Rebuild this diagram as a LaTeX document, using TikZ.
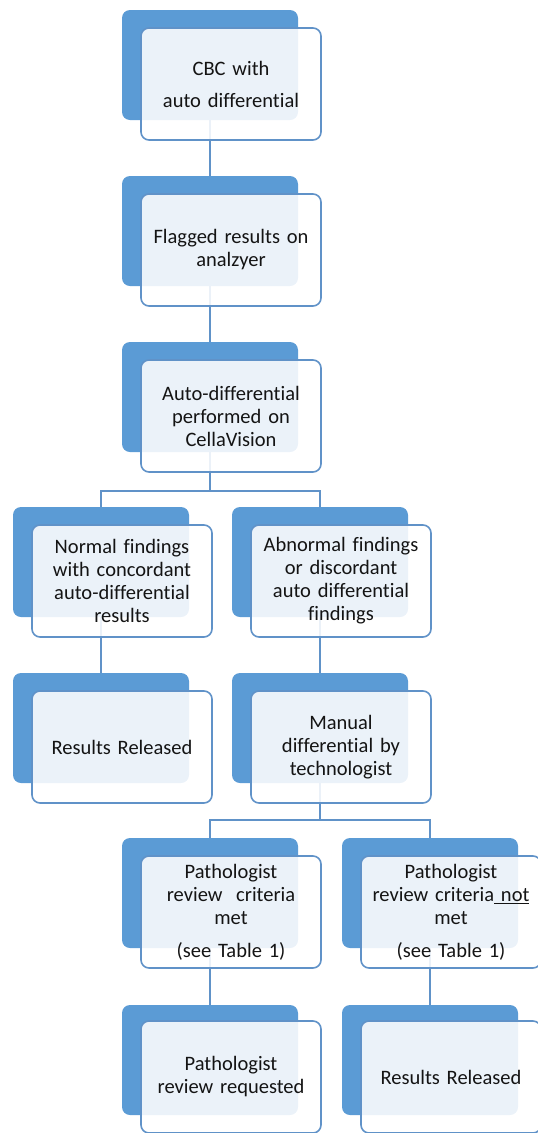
\documentclass[tikz,border=0pt]{standalone}
\usepackage{fontspec}
\setmainfont{Carlito}[Ligatures=NoCommon, WordSpace=0.85]
\usetikzlibrary{calc}
\definecolor{backblue}{RGB}{91,155,213}
\definecolor{lineblue}{RGB}{96,146,200}
\definecolor{textgray}{RGB}{20,20,20}

\begin{document}
\begin{tikzpicture}[
  x=1pt,
  y=-1pt,
  font=\fontsize{20.5}{23}\selectfont,
  backbox/.style={
    fill=backblue,
    rounded corners=8pt,
    minimum width=176pt,
    minimum height=110pt,
    inner sep=0pt
  },
  stepbox/.style={
    draw=lineblue,
    line width=1.6pt,
    fill=white,
    fill opacity=0.88,
    text opacity=1,
    text=textgray,
    rounded corners=8pt,
    minimum width=180pt,
    minimum height=112pt,
    text width=178pt,
    align=center,
    inner sep=0pt
  },
  link/.style={
    draw=lineblue,
    line width=1.8pt
  }
  ]
  \useasboundingbox (0,0) rectangle (538,1133);

  \node [backbox] (CBCBack) at (210, 65) {};
  \node [backbox] (FlaggedBack) at (210, 231) {};
  \node [backbox] (AutoDiffBack) at (210, 397) {};
  \node [backbox] (NormalBack) at (101, 562) {};
  \node [backbox] (AbnormalBack) at (320, 562) {};
  \node [backbox] (ReleasedBack) at (101, 728) {};
  \node [backbox] (ManualBack) at (320, 728) {};
  \node [backbox] (MetBack) at (210, 893) {};
  \node [backbox] (NotMetBack) at (430, 893) {};
  \node [backbox] (ReviewBack) at (210, 1060) {};
  \node [backbox] (FinalBack) at (430, 1060) {};

  \draw [link] (CBCBack.south) -- (FlaggedBack.north);
  \draw [link] (FlaggedBack.south) -- (AutoDiffBack.north);
  \draw [link] (AutoDiffBack.south) -- (AutoDiffBack.south |- 0,491) coordinate (SplitA);
  \draw [link] (NormalBack.north) |- (SplitA) -| (AbnormalBack.north);
  \draw [link] (NormalBack.south) -- (ReleasedBack.north);
  \draw [link] (AbnormalBack.south) -- (ManualBack.north);
  \draw [link] (ManualBack.south) -- (ManualBack.south |- 0,820) coordinate (SplitB);
  \draw [link] (MetBack.north) |- (SplitB) -| (NotMetBack.north);
  \draw [link] (MetBack.south) -- (ReviewBack.north);
  \draw [link] (NotMetBack.south) -- (FinalBack.north);

  \node [stepbox] (CBC) at ([shift={(21,19)}]CBCBack) {CBC with\\[9pt]auto differential};
  \node [stepbox] (Flagged) at ([shift={(21,19)}]FlaggedBack) {Flagged results on\\analzyer};
  \node [stepbox] (AutoDiff) at ([shift={(21,19)}]AutoDiffBack) {Auto-differential\\performed on\\CellaVision};
  \node [stepbox] (Normal) at ([shift={(21,19)}]NormalBack) {Normal findings\\with concordant\\auto-differential\\results};
  \node [stepbox] (Abnormal) at ([shift={(21,19)}]AbnormalBack) {Abnormal findings\\or discordant\\auto differential\\findings};
  \node [stepbox] (Released) at ([shift={(21,19)}]ReleasedBack) {Results Released};
  \node [stepbox] (Manual) at ([shift={(21,19)}]ManualBack) {Manual\\differential by\\technologist};
  \node [stepbox] (Met) at ([shift={(21,19)}]MetBack) {Pathologist\\review\ \ criteria\\met\\[10pt](see Table 1)};
  \node [stepbox] (NotMet) at ([shift={(21,19)}]NotMetBack) {Pathologist\\review criteria\underline{ not}\\met\\[10pt](see Table 1)};
  \node [stepbox] (Review) at ([shift={(21,17)}]ReviewBack) {Pathologist\\review requested};
  \node [stepbox] (Final) at ([shift={(21,17)}]FinalBack) {Results Released};
\end{tikzpicture}
\end{document}
